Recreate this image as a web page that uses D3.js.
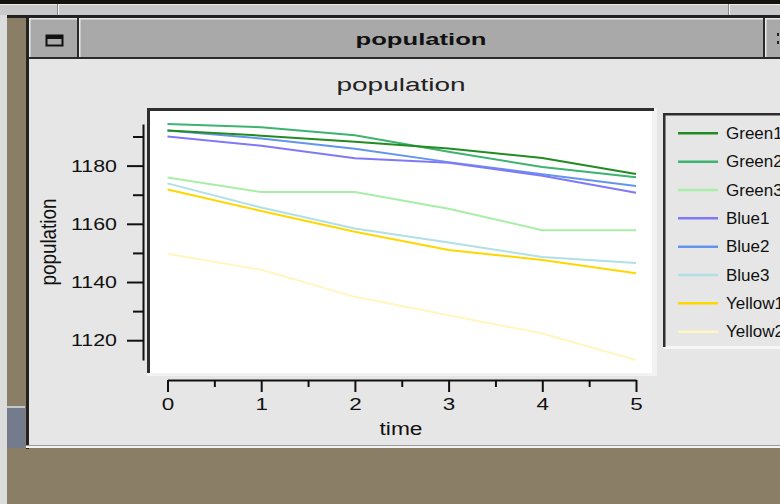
<!DOCTYPE html>
<html>
<head>
<meta charset="utf-8">
<script src="https://cdn.jsdelivr.net/npm/d3@7"></script>
<style>
  body { margin: 0; background: #8b7e66; }
  svg { display: block; font-family: "Liberation Sans", Arial, sans-serif; }
</style>
</head>
<body>
<div id="chart"></div>
<script>
// time steps and series values
const time = [0, 1, 2, 3, 4, 5];
const seriesNames = ['Green1', 'Green2', 'Green3', 'Blue1', 'Blue2', 'Blue3', 'Yellow1', 'Yellow2'];
const seriesColors = ['#228b22', '#3cb371', '#a8eea8', '#8078f8', '#6495ed', '#b0e0e6', '#ffd700', '#fff6c0'];

const green1 = [1192.1, 1190.3, 1188.2, 1185.9, 1182.6, 1177.1];
const green2 = [1194.3, 1193.2, 1190.4, 1184.8, 1179.5, 1176.0];
const green3 = [1175.9, 1170.9, 1170.9, 1165.2, 1157.8, 1157.8];
const blue1 = [1190.0, 1186.8, 1182.5, 1181.0, 1176.5, 1170.7];
const blue2 = [1192.1, 1189.3, 1185.8, 1181.2, 1177.0, 1173.0];
const blue3 = [1173.9, 1165.6, 1158.4, 1153.6, 1148.6, 1146.5];
const yellow1 = [1171.8, 1164.4, 1157.3, 1151.0, 1147.6, 1143.0];
const yellow2 = [1149.7, 1144.2, 1134.9, 1128.6, 1122.3, 1113.2];

const yMajorTicks = [1120, 1140, 1160, 1180];
const yMinorTicks = [1130, 1150, 1170, 1190];
const xMajorTicks = [0, 1, 2, 3, 4, 5];
const xMinorTicks = [0.5, 1.5, 2.5, 3.5, 4.5];

const seriesValues = [green1, green2, green3, blue1, blue2, blue3, yellow1, yellow2];
const series = seriesNames.map((name, i) => ({
    name: name,
    color: seriesColors[i],
    values: seriesValues[i].map((v, j) => ({ t: time[j], v: v }))
}));

const width = 780;
const height = 504;

const svg = d3.select('#chart').append('svg')
    .attr('width', width)
    .attr('height', height);

// ---- window chrome ----
svg.append('rect').attr('x', 0).attr('y', 0).attr('width', width).attr('height', height).attr('fill', '#8b7e66');
svg.append('rect').attr('x', 0).attr('y', 0).attr('width', 7).attr('height', height).attr('fill', '#dcdcdc');
svg.append('rect').attr('x', 0).attr('y', 0).attr('width', width).attr('height', 4).attr('fill', '#15130e');
svg.append('rect').attr('x', 0).attr('y', 4).attr('width', width).attr('height', 11).attr('fill', '#c9c9c9');
svg.append('rect').attr('x', 0).attr('y', 4).attr('width', width).attr('height', 1).attr('fill', '#ededed');
[57, 728].forEach(x => {
    svg.append('rect').attr('x', x).attr('y', 4).attr('width', 1).attr('height', 11).attr('fill', '#888');
    svg.append('rect').attr('x', x + 1).attr('y', 4).attr('width', 1).attr('height', 11).attr('fill', '#f4f4f4');
});
svg.append('rect').attr('x', 7).attr('y', 15).attr('width', width - 7).attr('height', 3).attr('fill', '#222');

// window frame left edge and body
svg.append('rect').attr('x', 26).attr('y', 15).attr('width', 3).attr('height', 434).attr('fill', '#222');
svg.append('rect').attr('x', 29).attr('y', 58).attr('width', width - 29).attr('height', 388).attr('fill', '#e6e6e6');
svg.append('rect').attr('x', 26).attr('y', 445).attr('width', width - 26).attr('height', 1).attr('fill', '#9a9a9a');
svg.append('rect').attr('x', 26).attr('y', 446).attr('width', width - 26).attr('height', 2).attr('fill', '#f4f4f4');

// bluish block at lower left
svg.append('rect').attr('x', 7).attr('y', 406).attr('width', 18).attr('height', 42).attr('fill', '#747b8d');
svg.append('rect').attr('x', 7).attr('y', 406).attr('width', 18).attr('height', 2).attr('fill', '#c3c7d2');

// title bar buttons
const bevel = (x, y, w, h) => {
    svg.append('rect').attr('x', x).attr('y', y).attr('width', w).attr('height', h).attr('fill', '#a9a9a9');
    svg.append('rect').attr('x', x).attr('y', y).attr('width', w).attr('height', 1.5).attr('fill', '#e8e8e8');
    svg.append('rect').attr('x', x).attr('y', y).attr('width', 1.5).attr('height', h).attr('fill', '#e8e8e8');
    svg.append('rect').attr('x', x).attr('y', y + h - 2).attr('width', w).attr('height', 2).attr('fill', '#2a2a2a');
    svg.append('rect').attr('x', x + w - 2).attr('y', y).attr('width', 2).attr('height', h).attr('fill', '#2a2a2a');
};
bevel(29, 18, 50, 41);
bevel(79, 18, 686, 41);
bevel(765, 18, 30, 41);

// window icon
svg.append('rect').attr('x', 46.5).attr('y', 35.5).attr('width', 16).attr('height', 10)
    .attr('fill', 'none').attr('stroke', '#111').attr('stroke-width', 2);
svg.append('rect').attr('x', 46).attr('y', 35).attr('width', 17).attr('height', 4).attr('fill', '#111');
svg.append('rect').attr('x', 777).attr('y', 33).attr('width', 2).attr('height', 3).attr('fill', '#222');
svg.append('rect').attr('x', 777).attr('y', 41).attr('width', 2).attr('height', 3).attr('fill', '#222');

svg.append('text')
    .attr('x', 421).attr('y', 45)
    .attr('text-anchor', 'middle')
    .attr('font-size', 16).attr('font-weight', 'bold')
    .attr('textLength', 131).attr('lengthAdjust', 'spacingAndGlyphs')
    .attr('fill', '#111')
    .text('population');

// ---- chart ----
svg.append('text')
    .attr('x', 401).attr('y', 91)
    .attr('text-anchor', 'middle')
    .attr('font-size', 18)
    .attr('textLength', 129).attr('lengthAdjust', 'spacingAndGlyphs')
    .attr('fill', '#222')
    .text('population');

// plot panel (sunken)
svg.append('rect').attr('x', 147).attr('y', 108).attr('width', 510).attr('height', 268).attr('fill', '#f2f2f2');
svg.append('rect').attr('x', 147).attr('y', 108).attr('width', 507).attr('height', 3).attr('fill', '#2e2e2e');
svg.append('rect').attr('x', 147).attr('y', 108).attr('width', 3).attr('height', 265).attr('fill', '#2e2e2e');
svg.append('rect').attr('x', 150).attr('y', 111).attr('width', 502).attr('height', 262).attr('fill', '#ffffff');

const x = d3.scaleLinear()
    .domain(d3.extent(time))
    .range([167.5, 636]);

const y = d3.scaleLinear()
    .domain(d3.extent(seriesValues.flat()))
    .range([360, 124]);

const line = d3.line()
    .x(d => x(d.t))
    .y(d => y(d.v));

// draw last series first so Green1 ends up on top
svg.append('g')
    .selectAll('path')
    .data(series.slice().reverse())
    .enter()
    .append('path')
    .attr('d', d => line(d.values))
    .attr('fill', 'none')
    .attr('stroke', d => d.color)
    .attr('stroke-width', 2);

// y axis
const yAxisG = svg.append('g').attr('transform', 'translate(143,0)');
yAxisG.append('g')
    .call(d3.axisLeft(y).tickValues(yMajorTicks).tickSize(16).tickSizeOuter(0).tickPadding(10).tickFormat(d3.format('d')));
yAxisG.append('g')
    .call(d3.axisLeft(y).tickValues(yMinorTicks).tickSize(10).tickSizeOuter(0).tickFormat(''))
    .select('.domain').remove();
yAxisG.selectAll('path, line').attr('stroke', '#111').attr('stroke-width', 2);
yAxisG.selectAll('text')
    .attr('font-size', 17)
    .attr('font-family', '"Liberation Sans", Arial, sans-serif')
    .attr('fill', '#111')
    .attr('textLength', 46).attr('lengthAdjust', 'spacingAndGlyphs');

svg.append('text')
    .attr('transform', 'translate(56,242) scale(1.35,1) rotate(-90)')
    .attr('text-anchor', 'middle')
    .attr('font-size', 16)
    .attr('textLength', 87).attr('lengthAdjust', 'spacingAndGlyphs')
    .attr('fill', '#111')
    .text('population');

// x axis
const xAxisG = svg.append('g').attr('transform', 'translate(0,380)');
xAxisG.append('g')
    .call(d3.axisBottom(x).tickValues(xMajorTicks).tickSize(12).tickSizeOuter(0).tickFormat(d3.format('d')));
xAxisG.append('g')
    .call(d3.axisBottom(x).tickValues(xMinorTicks).tickSize(7).tickSizeOuter(0).tickFormat(''))
    .select('.domain').remove();
xAxisG.selectAll('path, line').attr('stroke', '#111').attr('stroke-width', 2);
xAxisG.selectAll('text')
    .attr('y', 18)
    .attr('font-size', 17)
    .attr('font-family', '"Liberation Sans", Arial, sans-serif')
    .attr('fill', '#111')
    .attr('textLength', 12.5).attr('lengthAdjust', 'spacingAndGlyphs');

svg.append('text')
    .attr('x', 401).attr('y', 435)
    .attr('text-anchor', 'middle')
    .attr('font-size', 18)
    .attr('textLength', 43).attr('lengthAdjust', 'spacingAndGlyphs')
    .attr('fill', '#111')
    .text('time');

// legend
const legend = svg.append('g');
legend.append('rect').attr('x', 663).attr('y', 113).attr('width', 130).attr('height', 236).attr('fill', '#f6f6f6');
legend.append('rect').attr('x', 663).attr('y', 113).attr('width', 130).attr('height', 233).attr('fill', '#e6e6e6');
legend.append('rect').attr('x', 663).attr('y', 113).attr('width', 130).attr('height', 2.5).attr('fill', '#2e2e2e');
legend.append('rect').attr('x', 663).attr('y', 113).attr('width', 2.5).attr('height', 234).attr('fill', '#2e2e2e');

const rowY = d3.scalePoint()
    .domain(seriesNames)
    .range([133.3, 331.7]);

const items = legend.selectAll('.item')
    .data(series)
    .enter()
    .append('g')
    .attr('class', 'item')
    .attr('transform', d => 'translate(0,' + rowY(d.name) + ')');

items.append('line')
    .attr('x1', 678).attr('x2', 718)
    .attr('stroke', d => d.color)
    .attr('stroke-width', 2.5);

items.append('text')
    .attr('x', 726)
    .attr('dy', '0.34em')
    .attr('font-size', 17)
    .attr('fill', '#111')
    .text(d => d.name);
</script>
</body>
</html>
